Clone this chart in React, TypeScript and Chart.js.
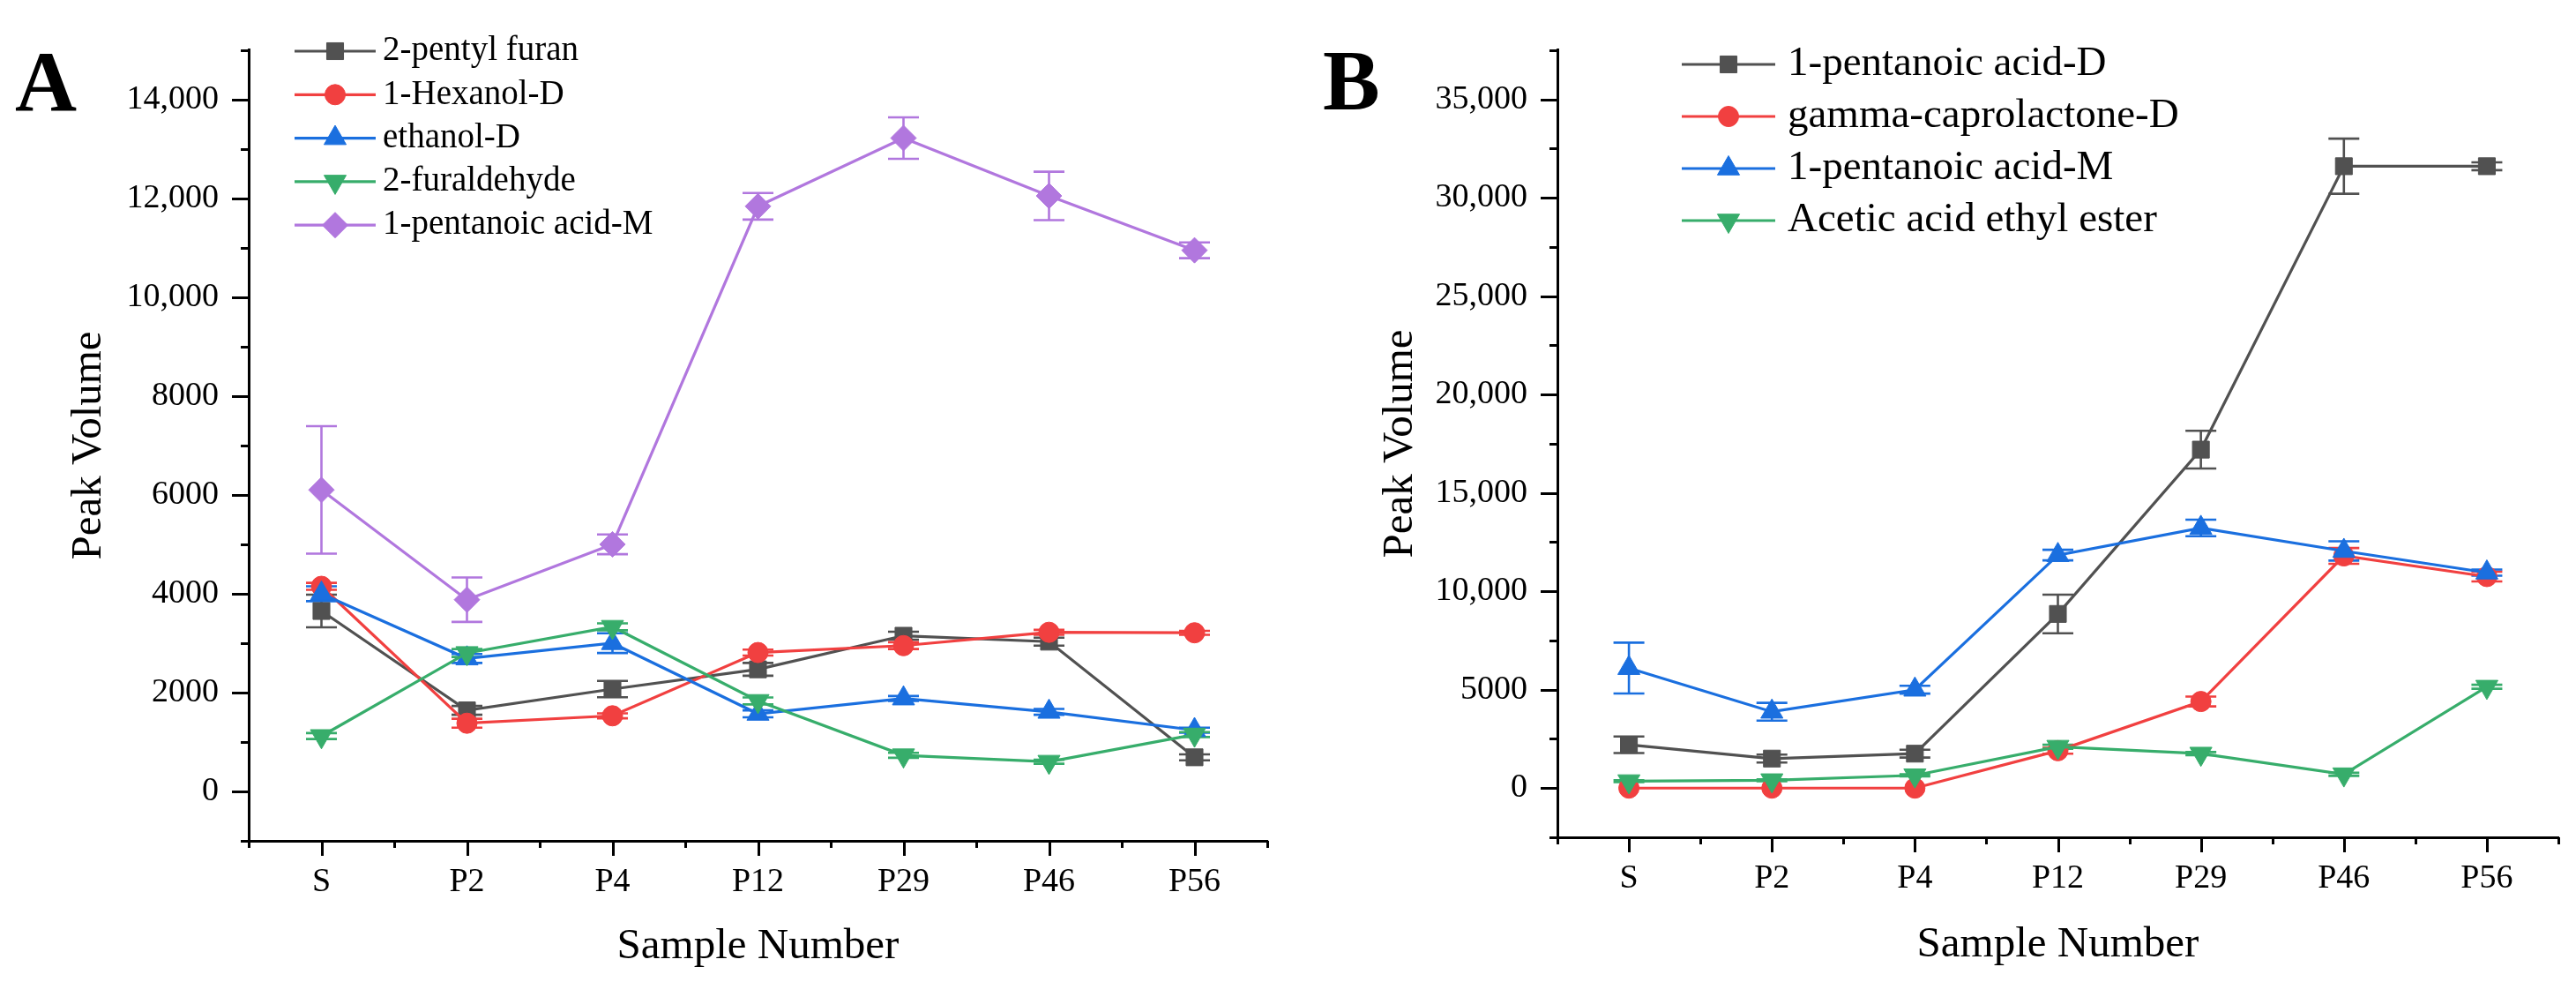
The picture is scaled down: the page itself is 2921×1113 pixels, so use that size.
import React, { useEffect, useRef } from 'react';
import { Chart, registerables } from 'chart.js';

Chart.register(...registerables);

// ---------- data ----------
const categories = ['S', 'P2', 'P4', 'P12', 'P29', 'P46', 'P56'];

// Panel A
const pentylFuran = [3650, 1640, 2070, 2470, 3150, 3030, 690];
const pentylFuranErr = [330, 90, 165, 130, 80, 80, 60];
const hexanolD = [4150, 1380, 1530, 2810, 2950, 3220, 3210];
const hexanolDErr = [70, 90, 50, 60, 70, 50, 40];
const ethanolD = [4000, 2690, 3000, 1570, 1880, 1610, 1240];
const ethanolDErr = [150, 90, 200, 70, 50, 60, 50];
const furaldehyde = [1120, 2800, 3330, 1830, 730, 600, 1150];
const furaldehydeErr = [60, 80, 70, 70, 50, 40, 50];
const pentanoicAcidM = [6100, 3880, 5000, 11840, 13220, 12050, 10950];
const pentanoicAcidMErr = [1290, 450, 200, 270, 420, 490, 160];

// Panel B
const pentanoicAcidD = [2200, 1500, 1750, 8850, 17200, 31600, 31600];
const pentanoicAcidDErr = [420, 200, 200, 980, 960, 1400, 200];
const caprolactoneD = [0, 0, 0, 1900, 4400, 11800, 10750];
const caprolactoneDErr = [0, 0, 0, 150, 250, 400, 250];
const ethylAcetate = [350, 400, 650, 2100, 1750, 700, 5150];
const ethylAcetateErr = [50, 50, 50, 100, 80, 80, 100];

// Tick labels
const yTicksA = [0, 2000, 4000, 6000, 8000, 10000, 12000, 14000];
const yTickLabelsA = ['0', '2000', '4000', '6000', '8000', '10,000', '12,000', '14,000'];
const yTicksB = [0, 5000, 10000, 15000, 20000, 25000, 30000, 35000];
const yTickLabelsB = ['0', '5000', '10,000', '15,000', '20,000', '25,000', '30,000', '35,000'];

// ---------- styling ----------
const FONT = "'Liberation Serif', 'Times New Roman', serif";
const GREY = '#515151';
const RED = '#F14040';
const BLUE = '#1A6FDF';
const GREEN = '#37AD6B';
const PURPLE = '#B177DE';

type Series = {
  label: string;
  data: number[];
  err: number[];
  color: string;
  style: string;
  radius: number;
  rotation: number;
};

type PanelCfg = {
  series: Series[];
  yMin: number;
  yMax: number;
  yMinor: number;
  yTicks: number[];
  yTickLabels: string[];
  padTop: number;
  padRight: number;
  yWidth: number;
  xHeight: number;
  yTitlePad: number;
  xTitlePad: number;
  legend: { x: number; y0: number; rowH: number; lineLen: number; textX: number; font: number };
  panelLabel: { text: string; x: number; y: number };
};

const SQ = { style: 'rect', radius: 13.5, rotation: 0 };
const CI = { style: 'circle', radius: 11.5, rotation: 0 };
const TU = { style: 'triangle', radius: 14.5, rotation: 0 };
const TD = { style: 'triangle', radius: 14.5, rotation: 180 };
const DI = { style: 'rectRot', radius: 14.5, rotation: 0 };

const cfgA: PanelCfg = {
  series: [
    { label: '2-pentyl furan', data: pentylFuran, err: pentylFuranErr, color: GREY, ...SQ },
    { label: '1-Hexanol-D', data: hexanolD, err: hexanolDErr, color: RED, ...CI },
    { label: 'ethanol-D', data: ethanolD, err: ethanolDErr, color: BLUE, ...TU },
    { label: '2-furaldehyde', data: furaldehyde, err: furaldehydeErr, color: GREEN, ...TD },
    { label: '1-pentanoic acid-M', data: pentanoicAcidM, err: pentanoicAcidMErr, color: PURPLE, ...DI },
  ],
  yMin: -1000,
  yMax: 15000,
  yMinor: 1000,
  yTicks: yTicksA,
  yTickLabels: yTickLabelsA,
  padTop: 22,
  padRight: 23,
  yWidth: 282,
  xHeight: 160,
  yTitlePad: 72,
  xTitlePad: 10,
  legend: { x: 334, y0: 58, rowH: 49.3, lineLen: 92, textX: 434, font: 39 },
  panelLabel: { text: 'A', x: 17, y: 125 },
};

const cfgB: PanelCfg = {
  series: [
    { label: '1-pentanoic acid-D', data: pentanoicAcidD, err: pentanoicAcidDErr, color: GREY, ...SQ },
    { label: 'gamma-caprolactone-D', data: caprolactoneD, err: caprolactoneDErr, color: RED, ...CI },
    { label: '1-pentanoic acid-M', data: pentanoicAcidM, err: pentanoicAcidMErr, color: BLUE, ...TU },
    { label: 'Acetic acid ethyl ester', data: ethylAcetate, err: ethylAcetateErr, color: GREEN, ...TD },
  ],
  yMin: -2500,
  yMax: 37500,
  yMinor: 2500,
  yTicks: yTicksB,
  yTickLabels: yTickLabelsB,
  padTop: 34,
  padRight: 20,
  yWidth: 306,
  xHeight: 164,
  yTitlePad: 99,
  xTitlePad: 12,
  legend: { x: 447, y0: 73, rowH: 59, lineLen: 106, textX: 567, font: 47 },
  panelLabel: { text: 'B', x: 40, y: 124 },
};

function drawMarker(ctx: CanvasRenderingContext2D, s: Series, x: number, y: number) {
  const r = s.radius;
  ctx.save();
  ctx.fillStyle = s.color;
  ctx.strokeStyle = s.color;
  ctx.lineWidth = 1;
  ctx.beginPath();
  if (s.style === 'rect') {
    const h = Math.SQRT1_2 * r;
    ctx.rect(x - h, y - h, 2 * h, 2 * h);
  } else if (s.style === 'circle') {
    ctx.arc(x, y, r, 0, Math.PI * 2);
  } else if (s.style === 'triangle') {
    let rad = (s.rotation * Math.PI) / 180;
    ctx.moveTo(x + Math.sin(rad) * r, y - Math.cos(rad) * r);
    rad += (2 * Math.PI) / 3;
    ctx.lineTo(x + Math.sin(rad) * r, y - Math.cos(rad) * r);
    rad += (2 * Math.PI) / 3;
    ctx.lineTo(x + Math.sin(rad) * r, y - Math.cos(rad) * r);
    ctx.closePath();
  } else {
    ctx.moveTo(x, y - r);
    ctx.lineTo(x + r, y);
    ctx.lineTo(x, y + r);
    ctx.lineTo(x - r, y);
    ctx.closePath();
  }
  ctx.fill();
  ctx.stroke();
  ctx.restore();
}

function makePlugin(cfg: PanelCfg) {
  return {
    id: 'originStyle',
    beforeDatasetsDraw(chart: any) {
      const ctx: CanvasRenderingContext2D = chart.ctx;
      const ys = chart.scales.y;
      ctx.save();
      cfg.series.forEach((s, di) => {
        const meta = chart.getDatasetMeta(di);
        meta.data.forEach((pt: any, i: number) => {
          const e = s.err[i];
          if (!e) return;
          const x = pt.x;
          const yt = ys.getPixelForValue(s.data[i] + e);
          const yb = ys.getPixelForValue(s.data[i] - e);
          ctx.strokeStyle = s.color;
          ctx.lineWidth = 2.6;
          ctx.beginPath();
          ctx.moveTo(x, yt);
          ctx.lineTo(x, yb);
          ctx.moveTo(x - 17.5, yt);
          ctx.lineTo(x + 17.5, yt);
          ctx.moveTo(x - 17.5, yb);
          ctx.lineTo(x + 17.5, yb);
          ctx.stroke();
        });
      });
      ctx.restore();
    },
    afterDraw(chart: any) {
      const ctx: CanvasRenderingContext2D = chart.ctx;
      const xs = chart.scales.x;
      const ys = chart.scales.y;
      const area = chart.chartArea;
      ctx.save();
      ctx.strokeStyle = '#000';
      ctx.lineWidth = 3;
      ctx.lineCap = 'butt';
      // y ticks (major + minor)
      for (let v = cfg.yMin; v <= cfg.yMax + 1e-6; v += cfg.yMinor) {
        const len = cfg.yTicks.includes(v) ? 19 : 9;
        const py = Math.round(ys.getPixelForValue(v)) + 0.5;
        ctx.beginPath();
        ctx.moveTo(area.left, py);
        ctx.lineTo(area.left - len, py);
        ctx.stroke();
      }
      // x ticks
      const n = categories.length;
      for (let i = 0; i < n; i++) {
        const px = Math.round(xs.getPixelForValue(i)) + 0.5;
        ctx.beginPath();
        ctx.moveTo(px, area.bottom);
        ctx.lineTo(px, area.bottom + 17);
        ctx.stroke();
      }
      for (let i = 0; i <= n; i++) {
        const px = Math.round(xs.getPixelForValue(i - 0.5)) + 0.5;
        ctx.beginPath();
        ctx.moveTo(px, area.bottom);
        ctx.lineTo(px, area.bottom + 8);
        ctx.stroke();
      }
      // legend
      const lg = cfg.legend;
      cfg.series.forEach((s, i) => {
        const y = lg.y0 + i * lg.rowH;
        ctx.strokeStyle = s.color;
        ctx.lineWidth = 3.2;
        ctx.beginPath();
        ctx.moveTo(lg.x, y);
        ctx.lineTo(lg.x + lg.lineLen, y);
        ctx.stroke();
        drawMarker(ctx, s, lg.x + lg.lineLen / 2, y);
        ctx.fillStyle = '#000';
        ctx.font = `${lg.font}px ${FONT}`;
        ctx.textAlign = 'left';
        ctx.textBaseline = 'middle';
        ctx.fillText(s.label, lg.textX, y);
      });
      // panel label
      ctx.fillStyle = '#000';
      ctx.font = `bold 97px ${FONT}`;
      ctx.textAlign = 'left';
      ctx.textBaseline = 'alphabetic';
      ctx.fillText(cfg.panelLabel.text, cfg.panelLabel.x, cfg.panelLabel.y);
      ctx.restore();
    },
  };
}

function buildChart(canvas: HTMLCanvasElement, cfg: PanelCfg) {
  const n = cfg.series.length;
  const datasets = cfg.series.map((s, i) => ({
    label: s.label,
    data: s.data,
    borderColor: s.color,
    backgroundColor: s.color,
    borderWidth: 3.2,
    pointStyle: s.style,
    pointRadius: s.radius,
    pointHoverRadius: s.radius,
    pointRotation: s.rotation,
    pointBackgroundColor: s.color,
    pointBorderColor: s.color,
    pointBorderWidth: 1,
    fill: false,
    tension: 0,
    order: n - i,
  }));
  return new Chart(canvas, {
    type: 'line',
    data: { labels: categories, datasets },
    options: {
      animation: false,
      responsive: false,
      devicePixelRatio: 1,
      events: [],
      layout: { padding: { left: 0, top: cfg.padTop, right: cfg.padRight, bottom: 0 } },
      plugins: { legend: { display: false }, tooltip: { enabled: false }, title: { display: false } },
      scales: {
        x: {
          type: 'category',
          offset: true,
          grid: { display: true, drawOnChartArea: false, drawTicks: false },
          border: { display: true, color: '#000', width: 3 },
          ticks: {
            color: '#000',
            font: { family: FONT, size: 38 },
            padding: 24,
            autoSkip: false,
            maxRotation: 0,
          },
          title: {
            display: true,
            text: 'Sample Number',
            color: '#000',
            font: { family: FONT, size: 49 },
            padding: { top: 0, bottom: cfg.xTitlePad },
          },
          afterFit: (scale: any) => {
            scale.height = cfg.xHeight;
          },
        },
        y: {
          type: 'linear',
          min: cfg.yMin,
          max: cfg.yMax,
          grid: { display: true, drawOnChartArea: false, drawTicks: false },
          border: { display: true, color: '#000', width: 3 },
          afterBuildTicks: (scale: any) => {
            scale.ticks = cfg.yTicks.map((value) => ({ value }));
          },
          ticks: {
            color: '#000',
            font: { family: FONT, size: 38 },
            padding: 34,
            autoSkip: false,
            callback: (value: any) => {
              const idx = cfg.yTicks.indexOf(Number(value));
              return idx >= 0 ? cfg.yTickLabels[idx] : '';
            },
          },
          title: {
            display: true,
            text: 'Peak Volume',
            color: '#000',
            font: { family: FONT, size: 49 },
            padding: { top: cfg.yTitlePad, bottom: 0 },
          },
          afterFit: (scale: any) => {
            scale.width = cfg.yWidth;
          },
        },
      },
    } as any,
    plugins: [makePlugin(cfg)],
  });
}

function Panel({ cfg, left, width }: { cfg: PanelCfg; left: number; width: number }) {
  const ref = useRef<HTMLCanvasElement>(null);
  useEffect(() => {
    if (!ref.current) return;
    const chart = buildChart(ref.current, cfg);
    return () => chart.destroy();
  }, [cfg]);
  return (
    <canvas
      ref={ref}
      width={width}
      height={1113}
      style={{ position: 'absolute', left, top: 0, width, height: 1113, display: 'block' }}
    />
  );
}

export default function App() {
  return (
    <div
      style={{
        position: 'absolute',
        left: 0,
        top: 0,
        width: 2921,
        height: 1113,
        background: '#fff',
        overflow: 'hidden',
      }}
    >
      <Panel cfg={cfgA} left={0} width={1460} />
      <Panel cfg={cfgB} left={1460} width={1461} />
    </div>
  );
}
